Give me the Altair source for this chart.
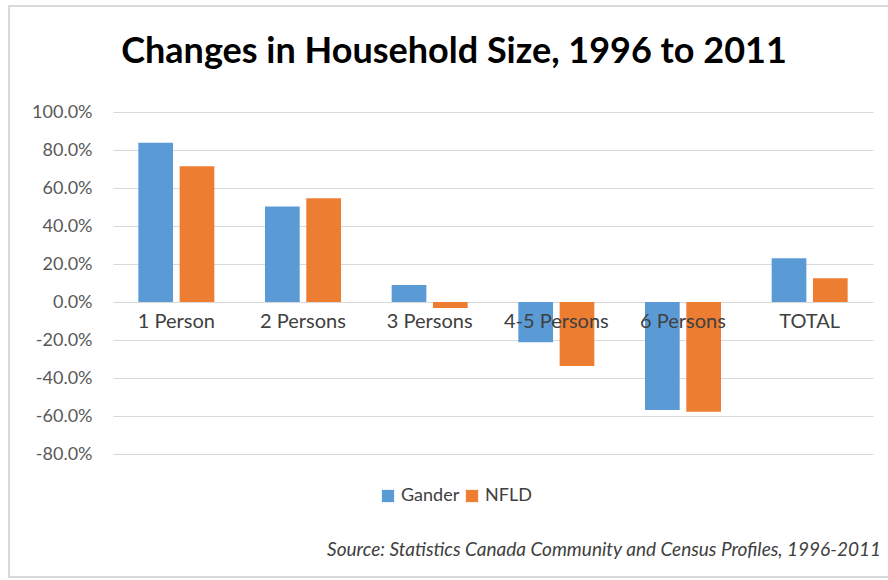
import altair as alt
import pandas as pd

# Household size change, 1996 to 2011 (fractions)
categories = ["1 Person", "2 Persons", "3 Persons", "4-5 Persons", "6 Persons", "TOTAL"]
gander = [0.838, 0.502, 0.089, -0.212, -0.568, 0.230]
nfld = [0.714, 0.546, -0.032, -0.337, -0.577, 0.125]
series = ["Gander", "NFLD"]
colors = ["#5B9BD5", "#ED7D31"]
y_ticks = [-0.8, -0.6, -0.4, -0.2, 0.0, 0.2, 0.4, 0.6, 0.8, 1.0]
source_note = "Source: Statistics Canada Community and Census Profiles, 1996-2011"

rows = []
for i, cat in enumerate(categories):
    rows.append({"category": cat, "series": "Gander", "value": gander[i]})
    rows.append({"category": cat, "series": "NFLD", "value": nfld[i]})
df = pd.DataFrame(rows)

FONT = "Lato"
PLOT_W, PLOT_H = 760, 342
PAD_L, PAD_T = 113, 112

bars = alt.Chart(df).mark_bar().encode(
    x=alt.X(
        "category:N",
        sort=categories,
        scale=alt.Scale(paddingInner=0.4, paddingOuter=0.2),
        axis=alt.Axis(
            title=None,
            orient="bottom",
            offset=-152,
            domain=False,
            ticks=False,
            grid=False,
            labelAngle=0,
            labelPadding=9,
            labelFontSize=20,
            labelColor="#404040",
            labelFont=FONT,
            zindex=1,
        ),
    ),
    xOffset=alt.XOffset("series:N", sort=series, scale=alt.Scale(paddingInner=0.16, paddingOuter=0)),
    y=alt.Y(
        "value:Q",
        scale=alt.Scale(domain=[-0.8, 1.0], nice=False, zero=True),
        axis=alt.Axis(
            title=None,
            values=y_ticks,
            format=".1%",
            labelExpr="replace(datum.label, '\u2212', '-')",
            domain=False,
            ticks=False,
            labelPadding=21,
            labelFontSize=18,
            labelColor="#595959",
            labelFont=FONT,
            gridColor="#d9d9d9",
            gridWidth=1,
        ),
    ),
    color=alt.Color(
        "series:N",
        sort=series,
        scale=alt.Scale(domain=series, range=colors),
        legend=alt.Legend(
            title=None,
            orient="none",
            direction="horizontal",
            legendX=266,
            legendY=375,
            symbolType="square",
            symbolSize=150,
            symbolStrokeWidth=0,
            labelFontSize=18,
            labelFont=FONT,
            labelColor="#404040",
            labelOffset=4,
            columnPadding=3,
        ),
    ),
)

source = alt.Chart(pd.DataFrame({"note": [source_note]})).mark_text(
    align="right",
    baseline="alphabetic",
    font=FONT,
    fontSize=19,
    fontStyle="italic",
    color="#404040",
).encode(x=alt.value(768), y=alt.value(444), text="note:N")

frame = alt.Chart(pd.DataFrame({"k": [0]})).mark_rect(
    fill=None, stroke="#d9d9d9", strokeWidth=2
).encode(x=alt.value(-104), x2=alt.value(800), y=alt.value(-106), y2=alt.value(465))

chart = (
    alt.layer(frame, bars, source)
    .properties(
        width=PLOT_W,
        height=PLOT_H,
        padding={"left": PAD_L, "top": PAD_T, "right": 15, "bottom": 126},
        autosize=alt.AutoSizeParams(type="none"),
        title=alt.TitleParams(
            "Changes in Household Size, 1996 to 2011",
            font=FONT,
            fontSize=36,
            fontWeight="bold",
            color="#000000",
            anchor="middle",
            dx=-39,
            dy=66,
            offset=0,
        ),
        background="white",
    )
    .configure_view(stroke=None)
)

chart.save("out.html", embed_options={"renderer": "svg", "actions": False})
